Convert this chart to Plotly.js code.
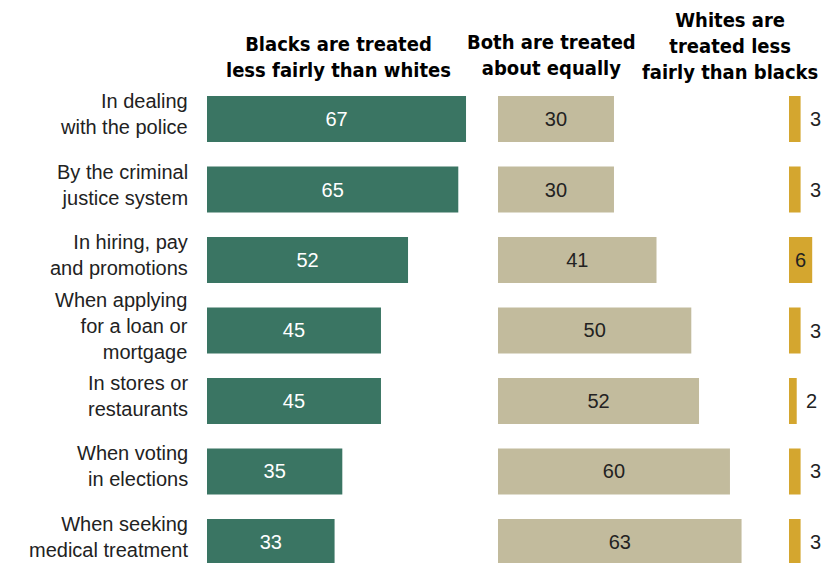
<!DOCTYPE html>
<html>
<head>
<meta charset="utf-8">
<script src="https://cdn.plot.ly/plotly-3.0.1.min.js"></script>
<style>html,body{margin:0;padding:0;background:#fff;}#chart{width:830px;height:563px;}</style>
</head>
<body>
<div id="chart"></div>
<script>
var categories = [
  "In dealing<br>with the police",
  "By the criminal<br>justice system",
  "In hiring, pay<br>and promotions",
  "When applying<br>for a loan or<br>mortgage",
  "In stores or<br>restaurants",
  "When voting<br>in elections",
  "When seeking<br>medical treatment"
];
var blacksLessFair = [67, 65, 52, 45, 45, 35, 33];
var bothEqual = [30, 30, 41, 50, 52, 60, 63];
var whitesLessFair = [3, 3, 6, 3, 2, 3, 3];
var headers = [
  "Blacks are treated<br>less fairly than whites",
  "Both are treated<br>about equally",
  "Whites are<br>treated less<br>fairly than blacks"
];

var W = 830, H = 563;
function px(x){ return x / W; }

var labelFont = "Liberation Sans, Arial, sans-serif";
var headFont = "Liberation Sans Narrow, DejaVu Sans Condensed, Arial Narrow, sans-serif";

var traces = [
  {
    type: "bar", orientation: "h", x: blacksLessFair, y: categories,
    xaxis: "x", yaxis: "y",
    marker: {color: "#3a7563"},
    text: blacksLessFair.map(String), textposition: "inside", insidetextanchor: "middle",
    textfont: {family: labelFont, size: 20, color: "#ffffff"},
    hoverinfo: "none"
  },
  {
    type: "bar", orientation: "h", x: bothEqual, y: categories,
    xaxis: "x2", yaxis: "y2",
    marker: {color: "#c2bb9d"},
    text: bothEqual.map(String), textposition: "inside", insidetextanchor: "middle",
    textfont: {family: labelFont, size: 20, color: "#222222"},
    hoverinfo: "none"
  },
  {
    type: "bar", orientation: "h", x: whitesLessFair, y: categories,
    xaxis: "x3", yaxis: "y3",
    marker: {color: "#d4a62f"},
    text: whitesLessFair.map(function(v){ return v >= 5 ? String(v) : ""; }),
    textposition: "inside", insidetextanchor: "middle",
    textfont: {family: labelFont, size: 20, color: "#222222"},
    cliponaxis: false,
    hoverinfo: "none"
  }
];

var yTop = 1 - 83.75 / H;
var yRange = [6.298, -0.5];
function yax(){
  return {
    domain: [0, yTop], range: yRange, type: "category",
    showgrid: false, zeroline: false, showline: false,
    showticklabels: false, ticks: "",
    fixedrange: true
  };
}
function xax(d0, d1, r){
  return {
    domain: [px(d0), px(d1)], range: r,
    showgrid: false, zeroline: false, showline: false,
    showticklabels: false, ticks: "", fixedrange: true
  };
}

var annotations = [
  {text: "<b>" + headers[0] + "</b>", xref: "paper", yref: "paper", x: px(338), y: 1 - 84 / H,
   xanchor: "center", yanchor: "bottom", showarrow: false, align: "center",
   font: {family: headFont, size: 20, color: "#000000"}},
  {text: "<b>" + headers[1] + "</b>", xref: "paper", yref: "paper", x: px(551), y: 1 - 82 / H,
   xanchor: "center", yanchor: "bottom", showarrow: false, align: "center",
   font: {family: headFont, size: 20, color: "#000000"}},
  {text: "<b>" + headers[2] + "</b>", xref: "paper", yref: "paper", x: px(730), y: 1 - 86 / H,
   xanchor: "center", yanchor: "bottom", showarrow: false, align: "center",
   font: {family: headFont, size: 20, color: "#000000"}}
];

categories.forEach(function(c){
  annotations.push({
    text: c, xref: "paper", yref: "y", x: px(190), y: c,
    xanchor: "right", yanchor: "middle", align: "right", showarrow: false, yshift: 5,
    font: {family: labelFont, size: 20, color: "#222222"}
  });
});

whitesLessFair.forEach(function(v, i){
  if (v < 5) {
    annotations.push({
      text: String(v), xref: "x3", yref: "y3", x: v, y: categories[i],
      xanchor: "left", yanchor: "middle", showarrow: false, xshift: 7,
      font: {family: labelFont, size: 20, color: "#222222"}
    });
  }
});

var layout = {
  width: W, height: H,
  margin: {l: 0, r: 0, t: 0, b: 0},
  paper_bgcolor: "#ffffff", plot_bgcolor: "#ffffff",
  showlegend: false,
  bargap: 0.348,
  xaxis: xax(207, 207 + 70 * 3.866, [0, 70]),
  xaxis2: xax(498, 498 + 70 * 3.866, [0, 70]),
  xaxis3: xax(789, 789 + 10 * 3.866, [0, 10]),
  yaxis: yax(),
  yaxis2: Object.assign(yax(), {anchor: "x2"}),
  yaxis3: Object.assign(yax(), {anchor: "x3"}),
  annotations: annotations
};

Plotly.newPlot("chart", traces, layout, {staticPlot: true, displayModeBar: false});
</script>
</body>
</html>
